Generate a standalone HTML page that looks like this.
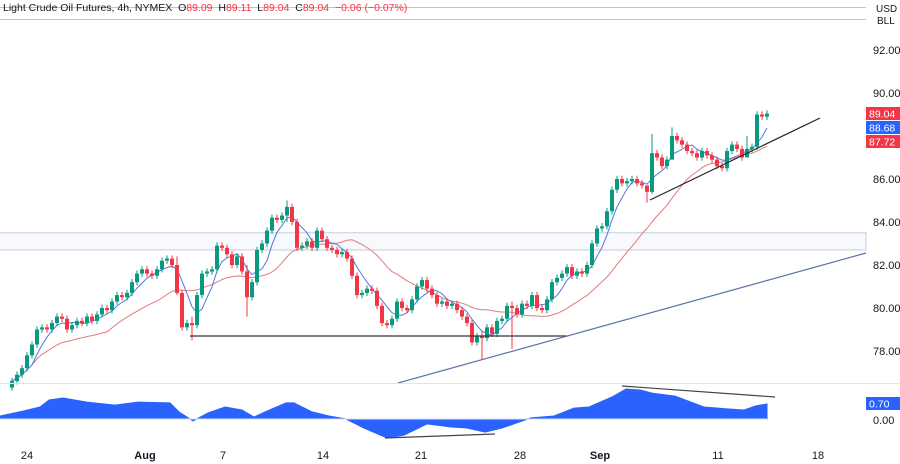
<!DOCTYPE html>
<html><head><meta charset="utf-8">
<style>
body{margin:0;background:#fff;font-family:"Liberation Sans",sans-serif;}
#wrap{position:relative;width:900px;height:464px;overflow:hidden;}
svg text{font-family:"Liberation Sans",sans-serif;}
</style></head>
<body>
<div id="wrap">
<svg id="svg" width="900" height="464"></svg>
</div>
<script>
// ---- data ----
const closes=[76.6,76.9,77.2,77.8,78.3,79.0,79.1,79.0,79.3,79.6,79.5,79.0,79.2,79.4,79.3,79.6,79.4,79.7,80.0,79.9,80.3,80.6,80.5,80.7,81.2,81.6,81.8,81.6,81.5,81.8,82.2,82.3,82.0,80.7,79.1,79.3,79.2,80.6,81.6,81.7,81.8,82.9,82.8,82.5,82.0,82.4,81.7,80.5,81.2,82.7,83.0,83.6,84.2,84.1,84.3,84.7,84.0,82.8,82.9,83.1,82.8,83.6,83.2,82.8,82.7,82.5,82.6,82.3,81.5,80.6,80.7,80.9,80.8,80.1,79.3,79.2,79.5,80.3,80.0,79.9,80.4,81.0,81.3,80.9,80.6,80.2,80.3,80.1,80.2,79.9,79.6,79.3,78.4,78.7,78.6,79.1,78.8,79.4,79.5,80.1,80.0,79.7,80.2,80.1,80.6,80.0,79.9,80.4,81.2,81.4,81.6,81.9,81.5,81.7,81.6,82.0,83.0,83.7,83.8,84.5,85.5,86.0,85.8,85.9,86.0,85.8,85.7,85.4,87.2,87.0,86.6,86.9,88.0,87.8,87.6,87.3,87.2,87.0,87.3,87.1,86.9,86.6,86.5,87.3,87.6,87.4,87.0,87.4,87.5,89.0,88.9,89.04];
const startPrice=76.3;
const spikes=[[33,82.4,80.6],[36,79.6,78.5],[47,82.0,79.6],[55,85.0,84.0],[94,78.9,77.6],[100,80.3,78.1],[127,85.7,84.9],[128,88.1,85.3],[132,88.4,87.0],[153,89.3,88.4],[147,88.0,87.0]];
const oscX=[0,23,40,49,63,87,115,138,170,179,193,208,225,242,254,265,286,294,312,329,346,364,387,404,427,450,467,485,502,531,554,574,589,612,626,641,652,675,704,727,744,756,767];
const oscVals=[0.14,0.37,0.56,0.89,0.98,0.79,0.65,0.79,0.75,0.33,-0.09,0.28,0.56,0.42,0.09,0.33,0.75,0.75,0.33,0.14,0.0,-0.42,-0.89,-0.75,-0.23,-0.37,-0.42,-0.61,-0.42,0.05,0.14,0.51,0.56,1.03,1.40,1.35,1.21,1.07,0.56,0.47,0.42,0.61,0.70];
const priceTicks=[92,90,86,84,82,80,78];
const dateLabels=["24","Aug","7","14","21","28","Sep","11","18"];
const dateX=[27,145,223,323,421,520,600,718,818];

// ---- scales ----
const yP=p=>50+(92-p)*21.5;
const xC=i=>12+i*5;
const yO=v=>419-v*21.4;
const NS="http://www.w3.org/2000/svg";
const svg=document.getElementById('svg');
function mk(tag,attrs,parent){const e=document.createElementNS(NS,tag);for(const k in attrs)e.setAttribute(k,attrs[k]);(parent||svg).appendChild(e);return e;}

let l=mk('line',{x1:0,x2:866,y1:7.5,y2:7.5,stroke:'#b8c3d6','stroke-width':1});


l=mk('line',{x1:0,x2:866,y1:19.5,y2:19.5,stroke:'#b8c3d6','stroke-width':1});


let r=mk('rect',{x:-1,y:yP(83.5),width:867,height:yP(82.7)-yP(83.5),fill:'#f8f9fc',stroke:'#c3cde0','stroke-width':1});



function sma(n){const out=[];for(let i=0;i<closes.length;i++){const s=Math.max(0,i-n+1);let t=0;for(let j=s;j<=i;j++)t+=closes[j];out.push(t/(i-s+1));}return out;}
function maPath(arr,col,name){let d='';arr.forEach((v,i)=>{d+=(i?'L':'M')+xC(i)+','+yP(v).toFixed(1);});const p=mk('path',{d:d,fill:'none',stroke:col,'stroke-width':1});

}
maPath(sma(20),'#e07b7b','slow-moving-average');
maPath(sma(5),'#4f7ad8','fast-moving-average');

const g=mk('g',{});


closes.forEach((c,i)=>{
  const o=i?closes[i-1]:startPrice;
  let hi=Math.max(o,c)+0.15, lo=Math.min(o,c)-0.15;
  spikes.forEach(s=>{if(s[0]===i){hi=s[1];lo=s[2];}});
  const col=c>=o?'#089981':'#f23645';
  const x=xC(i);
  const w=mk('line',{x1:x,x2:x,y1:yP(hi),y2:yP(lo),stroke:col,'stroke-width':1},g);
  
  
  const top=yP(Math.max(o,c)),h=Math.max(1.5,yP(Math.min(o,c))-top);
  const b=mk('rect',{x:x-2,y:top,width:4,height:h,fill:col},g);
  
  
});

function dl(x1,y1,x2,y2,col,name){const e=mk('line',{x1,y1,x2,y2,stroke:col,'stroke-width':1.2});

}
dl(190,336,567,336,'#333','support-line');
dl(398,383,866,253,'#5a73a8','long-trendline');
dl(650,200,820,118,'#222','short-trendline');

l=mk('line',{x1:0,x2:900,y1:383.5,y2:383.5,stroke:'#e0e3eb','stroke-width':1});



let d='M'+oscX[0]+','+yO(0);
oscX.forEach((x,i)=>{d+='L'+x+','+yO(oscVals[i]).toFixed(1);});
d+='L'+oscX[oscX.length-1]+','+yO(0)+'Z';
let a=mk('path',{d:d,fill:'#2962ff',stroke:'#2962ff','stroke-width':1});


l=mk('line',{x1:0,x2:767,y1:419,y2:419,stroke:'#d7ddf5','stroke-width':1});


dl(385,438,495,434,'#444','osc-divergence-low');
dl(622,386,775,397,'#444','osc-divergence-high');

priceTicks.forEach(p=>{const t=mk('text',{x:873,y:yP(p)+4,'font-size':11,fill:'#131722'});t.textContent=p.toFixed(2);

});
function tag(y,txt,bg,name){const rr=mk('rect',{x:866,y:y,width:34,height:13,fill:bg});


const t=mk('text',{x:869,y:y+10.5,'font-size':10.5,fill:'#fff'});t.textContent=txt;

}
tag(107,'89.04','#f23645','last-price-tag');
tag(121,'88.68','#2962ff','fast-ma-tag');
tag(135,'87.72','#f23645','slow-ma-tag');
tag(397,'0.70','#2962ff','oscillator-value-tag');
let t=mk('text',{x:873,y:424,'font-size':11,fill:'#131722'});t.textContent='0.00';


t=mk('text',{x:876,y:12,'font-size':10,fill:'#131722'});t.textContent='USD';


t=mk('text',{x:877,y:24,'font-size':10,fill:'#131722'});t.textContent='BLL';



dateLabels.forEach((s,i)=>{const e=mk('text',{x:dateX[i],y:459,'font-size':11,fill:'#131722','text-anchor':'middle','font-weight':(s==='Aug'||s==='Sep')?'bold':'normal'});e.textContent=s;

});

const hd=mk('text',{x:3,y:11,'font-size':10.5,fill:'#131722'});


hd.innerHTML='Light Crude Oil Futures, 4h, NYMEX  O<tspan fill="#f23645">89.09</tspan>  H<tspan fill="#f23645">89.11</tspan>  L<tspan fill="#f23645">89.04</tspan>  C<tspan fill="#f23645">89.04</tspan>  <tspan fill="#f23645">−0.06 (−0.07%)</tspan>';
hd.setAttribute('xml:space','preserve');
hd.style.whiteSpace='pre';
</script>
</body></html>
